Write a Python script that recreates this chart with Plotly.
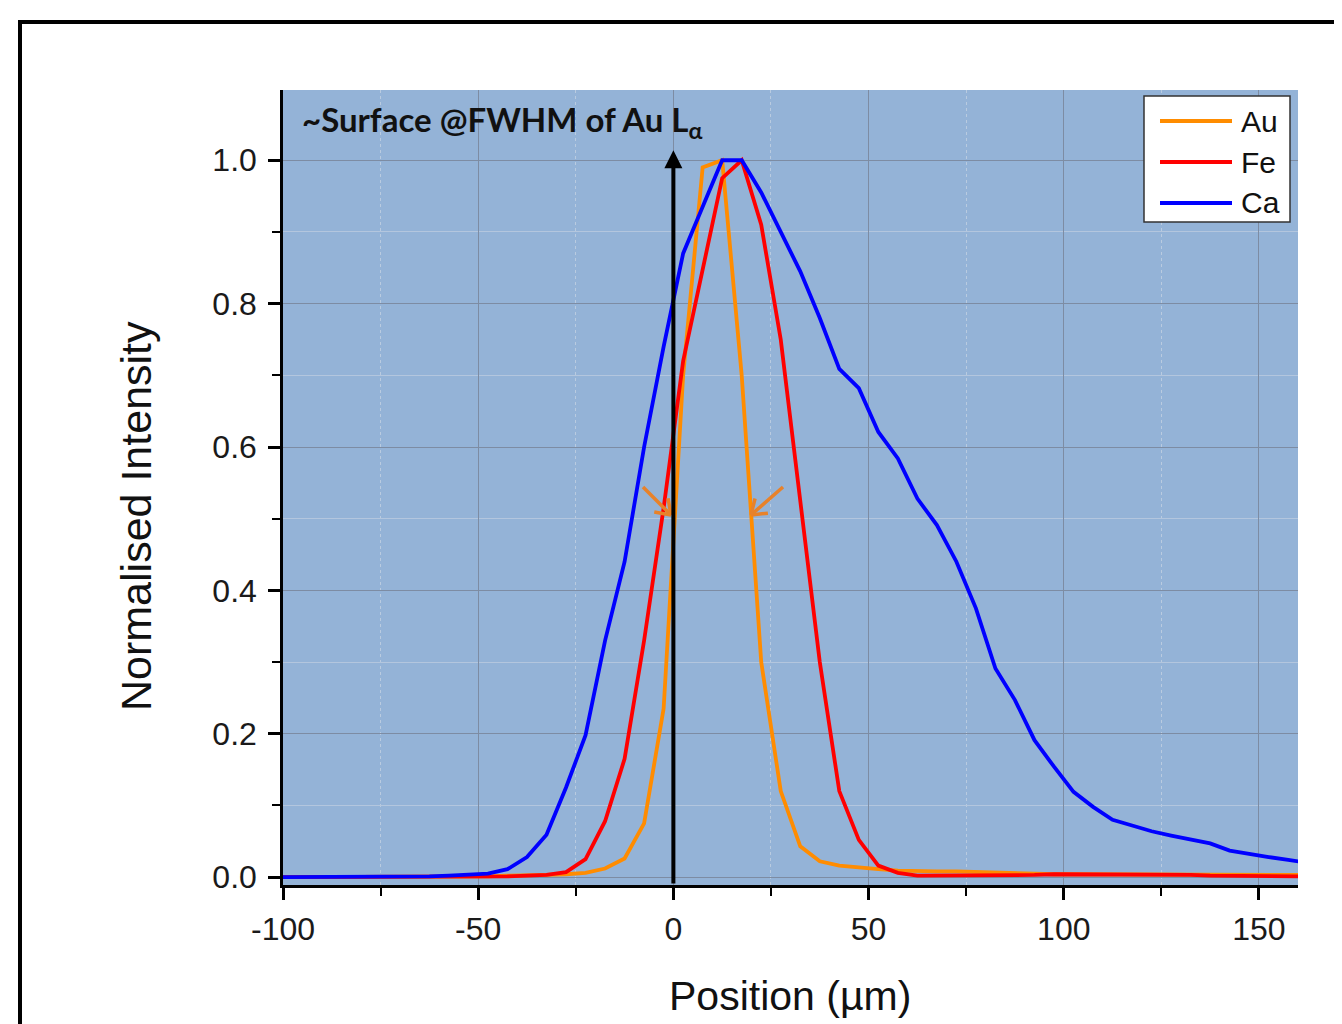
import math
import plotly.graph_objects as go

# ---------------- data ----------------
position = [-102.5, -97.5, -92.5, -87.5, -82.5, -77.5, -72.5, -67.5, -62.5, -57.5,
            -52.5, -47.5, -42.5, -37.5, -32.5, -27.5, -22.5, -17.5, -12.5, -7.5,
            -2.5, 2.5, 7.5, 12.5, 17.5, 22.5, 27.5, 32.5, 37.5, 42.5,
            47.5, 52.5, 57.5, 62.5, 67.5, 72.5, 77.5, 82.5, 87.5, 92.5,
            97.5, 102.5, 107.5, 112.5, 117.5, 122.5, 127.5, 132.5, 137.5, 142.5,
            147.5, 152.5, 157.5, 162.5]

au = [0.0, 0.0, 0.0, 0.0, 0.0, 0.0, 0.0, 0.0, 0.0, 0.0,
      0.001, 0.001, 0.002, 0.002, 0.003, 0.004, 0.006, 0.012, 0.026, 0.075,
      0.235, 0.70, 0.99, 1.0, 0.70, 0.30, 0.12, 0.043, 0.022, 0.016,
      0.013, 0.011, 0.009, 0.008, 0.008, 0.008, 0.007, 0.006, 0.005, 0.004,
      0.004, 0.004, 0.004, 0.004, 0.004, 0.004, 0.004, 0.004, 0.003, 0.003,
      0.003, 0.003, 0.003, 0.003]

fe = [0.0, 0.0, 0.0, 0.0, 0.001, 0.001, 0.0, 0.001, 0.001, 0.001,
      0.001, 0.001, 0.001, 0.002, 0.003, 0.007, 0.025, 0.078, 0.165, 0.33,
      0.515, 0.72, 0.85, 0.975, 1.0, 0.91, 0.75, 0.53, 0.30, 0.12,
      0.052, 0.016, 0.006, 0.002, 0.002, 0.002, 0.002, 0.003, 0.003, 0.003,
      0.004, 0.004, 0.004, 0.004, 0.004, 0.004, 0.003, 0.003, 0.002, 0.002,
      0.002, 0.002, 0.001, 0.001]

ca = [0.0, 0.0, 0.001, 0.0, 0.001, 0.001, 0.001, 0.001, 0.001, 0.002,
      0.003, 0.005, 0.011, 0.028, 0.059, 0.125, 0.198, 0.33, 0.44, 0.60,
      0.74, 0.87, 0.935, 1.0, 1.0, 0.955, 0.90, 0.845, 0.78, 0.709,
      0.682, 0.621, 0.584, 0.528, 0.491, 0.44, 0.375, 0.291, 0.247, 0.191,
      0.154, 0.119, 0.098, 0.08, 0.072, 0.064, 0.058, 0.052, 0.047, 0.037,
      0.032, 0.028, 0.024, 0.020]

series_names = ["Au", "Fe", "Ca"]
series_values = [au, fe, ca]
series_colors = ["#ff8c00", "#ff0000", "#0000ff"]

x_tickvals = [-100, -50, 0, 50, 100, 150]
x_ticktext = ["-100", "-50", "0", "50", "100", "150"]
y_tickvals = [0.0, 0.2, 0.4, 0.6, 0.8, 1.0]
y_ticktext = ["0.0", "0.2", "0.4", "0.6", "0.8", "1.0"]

x_title = "Position (µm)"
y_title = "Normalised Intensity"
note_text = "<b>~Surface @FWHM of Au L<sub>α</sub></b>"

# ---------------- figure ----------------
OFF = 8                      # page body margin of the browser
W, H = 1342 - OFF, 1024 - OFF
ML, MT, PW, PH = 275, 82, 1015, 795
MR = W - ML - PW
MB = H - MT - PH


def px2paper(px, py):
    """screen pixel -> paper coordinates"""
    return (px - OFF - ML) / PW, (H - MB - (py - OFF)) / PH


fig = go.Figure()
for name, vals, col in zip(series_names, series_values, series_colors):
    fig.add_trace(go.Scatter(x=position, y=vals, mode="lines", name=name,
                             line=dict(color=col, width=3.8), showlegend=False))

tick_font = dict(family="Liberation Sans, Arial, sans-serif", size=32, color="#1a1a1a")

fig.update_layout(
    width=W, height=H,
    margin=dict(l=ML, r=MR, t=MT, b=MB, autoexpand=False),
    paper_bgcolor="white", plot_bgcolor="#94b3d7",
    showlegend=False,
)
fig.update_xaxes(
    range=[-100, 160], tickmode="array", tickvals=x_tickvals, ticktext=x_ticktext,
    ticks="outside", ticklen=12, tickwidth=2.5, tickcolor="black",
    showline=True, linewidth=3, linecolor="black",
    showgrid=True, gridcolor="#7d8ca3", gridwidth=1, zeroline=False,
    tickfont=tick_font, ticklabelstandoff=2,
    minor=dict(dtick=25, tick0=0, ticks="outside", ticklen=8, tickwidth=2, tickcolor="black",
               showgrid=True, gridcolor="#b9cbe0", griddash="dot", gridwidth=1),
)
fig.update_yaxes(
    range=[-0.011, 1.098], tickmode="array", tickvals=y_tickvals, ticktext=y_ticktext,
    ticks="outside", ticklen=12, tickwidth=2.5, tickcolor="black",
    showline=True, linewidth=2.5, linecolor="black",
    showgrid=True, gridcolor="#7d8ca3", gridwidth=1, zeroline=False,
    tickfont=tick_font, ticklabelstandoff=5,
    minor=dict(dtick=0.1, tick0=0, ticks="outside", ticklen=8, tickwidth=2, tickcolor="black",
               showgrid=True, gridcolor="#b3c6de", gridwidth=1),
)

# axis titles
tx, ty = px2paper(790, 996)
fig.add_annotation(text=x_title, xref="paper", yref="paper", x=tx, y=ty,
                   showarrow=False, xanchor="center", yanchor="middle",
                   font=dict(family="Liberation Sans, Arial, sans-serif", size=41, color="#111"))
tx, ty = px2paper(136, 516)
fig.add_annotation(text=y_title, xref="paper", yref="paper", x=tx, y=ty, textangle=-90,
                   showarrow=False, xanchor="center", yanchor="middle",
                   font=dict(family="Liberation Sans, Arial, sans-serif", size=43, color="#111"))

# note text
tx, ty = px2paper(300, 121)
fig.add_annotation(text=note_text, xref="paper", yref="paper", x=tx, y=ty,
                   showarrow=False, xanchor="left", yanchor="middle",
                   font=dict(family="Lato, sans-serif", size=33, color="#111"))

# vertical surface arrow at x = 0
fig.add_annotation(x=0, y=1.014, ax=0, ay=-0.011, xref="x", yref="y", axref="x", ayref="y",
                   text="", showarrow=True, arrowhead=2, arrowsize=0.9, arrowwidth=4,
                   arrowcolor="black")


# FWHM arrows with open V heads (pixel geometry of the annotation marks)
def open_arrow(tail, tip, color="#e8822a", width=3.5, barb=17, ang=35):
    dx, dy = tip[0] - tail[0], tip[1] - tail[1]
    L = math.hypot(dx, dy)
    bx, by = -dx / L, -dy / L
    segs = [(tail, tip)]
    for s in (1, -1):
        a = math.radians(ang * s)
        rx = bx * math.cos(a) - by * math.sin(a)
        ry = bx * math.sin(a) + by * math.cos(a)
        segs.append((tip, (tip[0] + barb * rx, tip[1] + barb * ry)))
    for p0, p1 in segs:
        x0, y0 = px2paper(*p0)
        x1, y1 = px2paper(*p1)
        fig.add_shape(type="line", xref="paper", yref="paper", x0=x0, y0=y0, x1=x1, y1=y1,
                      line=dict(color=color, width=width))


open_arrow((643, 487), (671, 515))
open_arrow((783, 487), (751, 515))

# legend box (custom, to match long line samples)
x0, y0 = px2paper(1144, 222)
x1, y1 = px2paper(1290, 96)
fig.add_shape(type="rect", xref="paper", yref="paper", x0=x0, y0=y0, x1=x1, y1=y1,
              fillcolor="white", line=dict(color="#333", width=1.5))
rows_py = [121, 162, 203]
for name, col, py in zip(series_names, series_colors, rows_py):
    lx0, ly = px2paper(1160, py)
    lx1, _ = px2paper(1232, py)
    fig.add_shape(type="line", xref="paper", yref="paper", x0=lx0, x1=lx1, y0=ly, y1=ly,
                  line=dict(color=col, width=3.8))
    txp, _ = px2paper(1239, py)
    fig.add_annotation(text=name, xref="paper", yref="paper", x=txp, y=ly,
                       showarrow=False, xanchor="left", yanchor="middle",
                       font=dict(family="Liberation Sans, Arial, sans-serif", size=30, color="#111"))

# outer frame
fx0, fy1 = px2paper(20, 22)
fx1, fy0 = px2paper(1360, 1040)
fig.add_shape(type="rect", xref="paper", yref="paper", x0=fx0, y0=fy0, x1=fx1, y1=fy1,
              line=dict(color="black", width=4), fillcolor="rgba(0,0,0,0)", layer="above")

fig.write_html("out.html")
